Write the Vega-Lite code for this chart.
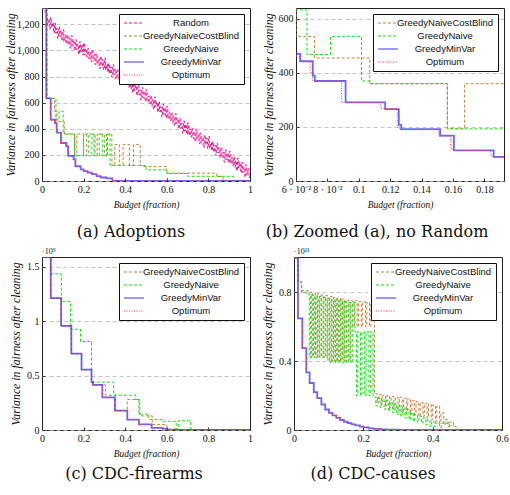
{
"$schema": "https://vega.github.io/schema/vega-lite/v6.json",
"padding": {"left": 4, "top": 7, "right": 0, "bottom": 0},
"datasets": {
"A": [
{"s":"R","x":0,"y":1325},{"s":"R","x":0.015,"y":1280},
{"s":"R","x":0.02,"y":1270},{"s":"R","x":0.025,"y":1195},{"s":"R","x":0.03,"y":1239},{"s":"R","x":0.035,"y":1164},{"s":"R","x":0.04,"y":1252},{"s":"R","x":0.045,"y":1177},{"s":"R","x":0.05,"y":1211},{"s":"R","x":0.055,"y":1136},
{"s":"R","x":0.06,"y":1209},{"s":"R","x":0.065,"y":1134},{"s":"R","x":0.07,"y":1168},{"s":"R","x":0.075,"y":1093},{"s":"R","x":0.08,"y":1181},{"s":"R","x":0.085,"y":1106},{"s":"R","x":0.09,"y":1150},{"s":"R","x":0.095,"y":1075},{"s":"R","x":0.1,"y":1158},{"s":"R","x":0.105,"y":1068},
{"s":"R","x":0.11,"y":1113},{"s":"R","x":0.115,"y":1053},{"s":"R","x":0.12,"y":1118},{"s":"R","x":0.125,"y":1043},{"s":"R","x":0.13,"y":1092},{"s":"R","x":0.135,"y":1017},{"s":"R","x":0.14,"y":1112},{"s":"R","x":0.145,"y":1037},{"s":"R","x":0.15,"y":1077},{"s":"R","x":0.155,"y":1002},
{"s":"R","x":0.16,"y":1082},{"s":"R","x":0.165,"y":1007},{"s":"R","x":0.17,"y":1047},{"s":"R","x":0.175,"y":972},{"s":"R","x":0.18,"y":1066},{"s":"R","x":0.185,"y":991},{"s":"R","x":0.19,"y":1041},{"s":"R","x":0.195,"y":966},{"s":"R","x":0.2,"y":1056},{"s":"R","x":0.205,"y":966},
{"s":"R","x":0.21,"y":1010},{"s":"R","x":0.215,"y":950},{"s":"R","x":0.22,"y":1013},{"s":"R","x":0.225,"y":938},{"s":"R","x":0.23,"y":987},{"s":"R","x":0.235,"y":912},{"s":"R","x":0.24,"y":1005},{"s":"R","x":0.245,"y":930},{"s":"R","x":0.25,"y":969},{"s":"R","x":0.255,"y":894},
{"s":"R","x":0.26,"y":972},{"s":"R","x":0.265,"y":897},{"s":"R","x":0.27,"y":936},{"s":"R","x":0.275,"y":861},{"s":"R","x":0.28,"y":954},{"s":"R","x":0.285,"y":879},{"s":"R","x":0.29,"y":928},{"s":"R","x":0.295,"y":853},{"s":"R","x":0.3,"y":941},{"s":"R","x":0.305,"y":851},
{"s":"R","x":0.31,"y":895},{"s":"R","x":0.315,"y":835},{"s":"R","x":0.32,"y":898},{"s":"R","x":0.325,"y":823},{"s":"R","x":0.33,"y":872},{"s":"R","x":0.335,"y":797},{"s":"R","x":0.34,"y":890},{"s":"R","x":0.345,"y":815},{"s":"R","x":0.35,"y":854},{"s":"R","x":0.355,"y":779},
{"s":"R","x":0.36,"y":857},{"s":"R","x":0.365,"y":782},{"s":"R","x":0.37,"y":821},{"s":"R","x":0.375,"y":746},{"s":"R","x":0.38,"y":839},{"s":"R","x":0.385,"y":764},{"s":"R","x":0.39,"y":813},{"s":"R","x":0.395,"y":738},{"s":"R","x":0.4,"y":826},{"s":"R","x":0.405,"y":736},
{"s":"R","x":0.41,"y":778},{"s":"R","x":0.415,"y":718},{"s":"R","x":0.42,"y":780},{"s":"R","x":0.425,"y":705},{"s":"R","x":0.43,"y":753},{"s":"R","x":0.435,"y":678},{"s":"R","x":0.44,"y":770},{"s":"R","x":0.445,"y":695},{"s":"R","x":0.45,"y":732},{"s":"R","x":0.455,"y":657},
{"s":"R","x":0.46,"y":734},{"s":"R","x":0.465,"y":659},{"s":"R","x":0.47,"y":696},{"s":"R","x":0.475,"y":621},{"s":"R","x":0.48,"y":714},{"s":"R","x":0.485,"y":639},{"s":"R","x":0.49,"y":686},{"s":"R","x":0.495,"y":611},{"s":"R","x":0.5,"y":698},{"s":"R","x":0.505,"y":608},
{"s":"R","x":0.51,"y":650},{"s":"R","x":0.515,"y":590},{"s":"R","x":0.52,"y":652},{"s":"R","x":0.525,"y":577},{"s":"R","x":0.53,"y":625},{"s":"R","x":0.535,"y":550},{"s":"R","x":0.54,"y":642},{"s":"R","x":0.545,"y":567},{"s":"R","x":0.55,"y":604},{"s":"R","x":0.555,"y":529},
{"s":"R","x":0.56,"y":606},{"s":"R","x":0.565,"y":531},{"s":"R","x":0.57,"y":568},{"s":"R","x":0.575,"y":493},{"s":"R","x":0.58,"y":586},{"s":"R","x":0.585,"y":511},{"s":"R","x":0.59,"y":558},{"s":"R","x":0.595,"y":483},{"s":"R","x":0.6,"y":570},{"s":"R","x":0.605,"y":480},
{"s":"R","x":0.61,"y":522},{"s":"R","x":0.615,"y":462},{"s":"R","x":0.62,"y":525},{"s":"R","x":0.625,"y":450},{"s":"R","x":0.63,"y":497},{"s":"R","x":0.635,"y":422},{"s":"R","x":0.64,"y":514},{"s":"R","x":0.645,"y":439},{"s":"R","x":0.65,"y":477},{"s":"R","x":0.655,"y":402},
{"s":"R","x":0.66,"y":479},{"s":"R","x":0.665,"y":404},{"s":"R","x":0.67,"y":441},{"s":"R","x":0.675,"y":366},{"s":"R","x":0.68,"y":458},{"s":"R","x":0.685,"y":383},{"s":"R","x":0.69,"y":431},{"s":"R","x":0.695,"y":356},{"s":"R","x":0.7,"y":443},{"s":"R","x":0.705,"y":353},
{"s":"R","x":0.71,"y":398},{"s":"R","x":0.715,"y":338},{"s":"R","x":0.72,"y":403},{"s":"R","x":0.725,"y":328},{"s":"R","x":0.73,"y":377},{"s":"R","x":0.735,"y":302},{"s":"R","x":0.74,"y":397},{"s":"R","x":0.745,"y":322},{"s":"R","x":0.75,"y":362},{"s":"R","x":0.755,"y":287},
{"s":"R","x":0.76,"y":367},{"s":"R","x":0.765,"y":292},{"s":"R","x":0.77,"y":332},{"s":"R","x":0.775,"y":257},{"s":"R","x":0.78,"y":351},{"s":"R","x":0.785,"y":276},{"s":"R","x":0.79,"y":326},{"s":"R","x":0.795,"y":251},{"s":"R","x":0.8,"y":341},{"s":"R","x":0.805,"y":251},
{"s":"R","x":0.81,"y":295},{"s":"R","x":0.815,"y":235},{"s":"R","x":0.82,"y":298},{"s":"R","x":0.825,"y":223},{"s":"R","x":0.83,"y":272},{"s":"R","x":0.835,"y":197},{"s":"R","x":0.84,"y":290},{"s":"R","x":0.845,"y":215},{"s":"R","x":0.85,"y":254},{"s":"R","x":0.855,"y":179},
{"s":"R","x":0.86,"y":257},{"s":"R","x":0.865,"y":182},{"s":"R","x":0.87,"y":221},{"s":"R","x":0.875,"y":146},{"s":"R","x":0.88,"y":239},{"s":"R","x":0.885,"y":164},{"s":"R","x":0.89,"y":213},{"s":"R","x":0.895,"y":138},{"s":"R","x":0.9,"y":226},{"s":"R","x":0.905,"y":136},
{"s":"R","x":0.91,"y":179},{"s":"R","x":0.915,"y":119},{"s":"R","x":0.92,"y":183},{"s":"R","x":0.925,"y":108},{"s":"R","x":0.93,"y":156},{"s":"R","x":0.935,"y":81},{"s":"R","x":0.94,"y":175},{"s":"R","x":0.945,"y":100},{"s":"R","x":0.95,"y":138},{"s":"R","x":0.955,"y":63},
{"s":"R","x":0.96,"y":141},{"s":"R","x":0.965,"y":66},{"s":"R","x":0.97,"y":105},{"s":"R","x":0.975,"y":30},{"s":"R","x":0.98,"y":123},{"s":"R","x":0.985,"y":48},{"s":"R","x":0.99,"y":97},{"s":"R","x":0.995,"y":27},{"s":"R","x":1,"y":60},
{"s":"B","x":0,"y":1325},{"s":"B","x":0.021,"y":633},{"s":"B","x":0.06,"y":535},{"s":"B","x":0.0718,"y":455},{"s":"B","x":0.107,"y":360},{"s":"B","x":0.1564,"y":193},{"s":"B","x":0.1674,"y":360},{"s":"B","x":0.2,"y":193},{"s":"B","x":0.215,"y":360},{"s":"B","x":0.25,"y":193},{"s":"B","x":0.265,"y":360},{"s":"B","x":0.3,"y":193},{"s":"B","x":0.315,"y":360},{"s":"B","x":0.336,"y":120},{"s":"B","x":0.35,"y":280},{"s":"B","x":0.372,"y":120},{"s":"B","x":0.39,"y":280},{"s":"B","x":0.42,"y":120},{"s":"B","x":0.44,"y":280},{"s":"B","x":0.472,"y":120},{"s":"B","x":0.48,"y":110},{"s":"B","x":0.6,"y":60},{"s":"B","x":0.84,"y":35},{"s":"B","x":0.87,"y":0},{"s":"B","x":1,"y":0},
{"s":"N","x":0,"y":1325},{"s":"N","x":0.024,"y":633},{"s":"N","x":0.067,"y":468},{"s":"N","x":0.082,"y":535},{"s":"N","x":0.1017,"y":370},{"s":"N","x":0.107,"y":360},{"s":"N","x":0.1564,"y":193},{"s":"N","x":0.2,"y":360},{"s":"N","x":0.225,"y":193},{"s":"N","x":0.24,"y":360},{"s":"N","x":0.255,"y":193},{"s":"N","x":0.275,"y":360},{"s":"N","x":0.29,"y":193},{"s":"N","x":0.31,"y":360},{"s":"N","x":0.327,"y":120},{"s":"N","x":0.5,"y":85},{"s":"N","x":0.6,"y":57},{"s":"N","x":0.7,"y":36},{"s":"N","x":0.92,"y":0},{"s":"N","x":1,"y":0},
{"s":"M","x":0,"y":1325},{"s":"M","x":0.021,"y":633},{"s":"M","x":0.042,"y":470},{"s":"M","x":0.0627,"y":443},{"s":"M","x":0.0707,"y":390},{"s":"M","x":0.072,"y":370},{"s":"M","x":0.0916,"y":291},{"s":"M","x":0.1168,"y":266},{"s":"M","x":0.1255,"y":208},{"s":"M","x":0.127,"y":192},{"s":"M","x":0.1518,"y":168},{"s":"M","x":0.1606,"y":113},{"s":"M","x":0.1859,"y":89},{"s":"M","x":0.2,"y":75},{"s":"M","x":0.22,"y":64},{"s":"M","x":0.24,"y":52},{"s":"M","x":0.262,"y":38},{"s":"M","x":0.282,"y":27},{"s":"M","x":0.31,"y":20},{"s":"M","x":0.338,"y":0},{"s":"M","x":1,"y":0},
{"s":"O","x":0,"y":1325},{"s":"O","x":0.02,"y":633},{"s":"O","x":0.041,"y":462},{"s":"O","x":0.0622,"y":443},{"s":"O","x":0.069,"y":400},{"s":"O","x":0.0705,"y":370},{"s":"O","x":0.089,"y":291},{"s":"O","x":0.114,"y":268},{"s":"O","x":0.1245,"y":200},{"s":"O","x":0.126,"y":190},{"s":"O","x":0.151,"y":166},{"s":"O","x":0.1585,"y":120},{"s":"O","x":0.16,"y":113},{"s":"O","x":0.1842,"y":93},{"s":"O","x":0.186,"y":88},{"s":"O","x":0.2,"y":75},{"s":"O","x":0.22,"y":64},{"s":"O","x":0.24,"y":52},{"s":"O","x":0.262,"y":38},{"s":"O","x":0.282,"y":27},{"s":"O","x":0.31,"y":20},{"s":"O","x":0.338,"y":0},{"s":"O","x":1,"y":0}
],
"C": [
{"s":"B","x":0,"y":1.59},{"s":"B","x":0.042,"y":1.212},{"s":"B","x":0.092,"y":0.957},{"s":"B","x":0.141,"y":0.702},{"s":"B","x":0.19,"y":0.555},{"s":"B","x":0.238,"y":0.44},{"s":"B","x":0.245,"y":0.415},{"s":"B","x":0.305,"y":0.32},{"s":"B","x":0.354,"y":0.178},{"s":"B","x":0.41,"y":0.28},{"s":"B","x":0.47,"y":0.13},{"s":"B","x":0.53,"y":0.05},{"s":"B","x":0.6,"y":0.01},{"s":"B","x":0.65,"y":0},{"s":"B","x":1,"y":0},
{"s":"N","x":0,"y":1.59},{"s":"N","x":0.042,"y":1.436},{"s":"N","x":0.093,"y":1.18},{"s":"N","x":0.137,"y":0.926},{"s":"N","x":0.185,"y":0.813},{"s":"N","x":0.238,"y":0.44},{"s":"N","x":0.345,"y":0.32},{"s":"N","x":0.45,"y":0.28},{"s":"N","x":0.466,"y":0.147},{"s":"N","x":0.514,"y":0.095},{"s":"N","x":0.58,"y":0.08},{"s":"N","x":0.645,"y":0.01},{"s":"N","x":0.655,"y":0.085},{"s":"N","x":0.715,"y":0},{"s":"N","x":1,"y":0},
{"s":"M","x":0,"y":1.59},{"s":"M","x":0.042,"y":1.212},{"s":"M","x":0.092,"y":0.957},{"s":"M","x":0.141,"y":0.702},{"s":"M","x":0.19,"y":0.555},{"s":"M","x":0.238,"y":0.44},{"s":"M","x":0.245,"y":0.415},{"s":"M","x":0.29,"y":0.3},{"s":"M","x":0.35,"y":0.178},{"s":"M","x":0.41,"y":0.095},{"s":"M","x":0.466,"y":0.052},{"s":"M","x":0.527,"y":0.02},{"s":"M","x":0.58,"y":0.01},{"s":"M","x":0.6,"y":0},{"s":"M","x":1,"y":0},
{"s":"O","x":0,"y":1.59},{"s":"O","x":0.042,"y":1.212},{"s":"O","x":0.092,"y":0.957},{"s":"O","x":0.141,"y":0.702},{"s":"O","x":0.19,"y":0.555},{"s":"O","x":0.238,"y":0.44},{"s":"O","x":0.245,"y":0.415},{"s":"O","x":0.29,"y":0.3},{"s":"O","x":0.35,"y":0.178},{"s":"O","x":0.41,"y":0.095},{"s":"O","x":0.466,"y":0.052},{"s":"O","x":0.527,"y":0.02},{"s":"O","x":0.58,"y":0.01},{"s":"O","x":0.6,"y":0},{"s":"O","x":1,"y":0}
],
"D": [
{"s":"B","x":0,"y":1},{"s":"B","x":0.0115,"y":0.86},{"s":"B","x":0.022,"y":0.81},{"s":"B","x":0.04,"y":0.8},
{"s":"B","x":0.05,"y":0.42},{"s":"B","x":0.054,"y":0.795},{"s":"B","x":0.062,"y":0.42},{"s":"B","x":0.066,"y":0.79},{"s":"B","x":0.074,"y":0.42},{"s":"B","x":0.078,"y":0.785},{"s":"B","x":0.086,"y":0.42},{"s":"B","x":0.09,"y":0.78},
{"s":"B","x":0.098,"y":0.4},{"s":"B","x":0.102,"y":0.775},{"s":"B","x":0.11,"y":0.4},{"s":"B","x":0.114,"y":0.77},{"s":"B","x":0.122,"y":0.4},{"s":"B","x":0.126,"y":0.765},{"s":"B","x":0.134,"y":0.4},{"s":"B","x":0.138,"y":0.76},{"s":"B","x":0.146,"y":0.4},{"s":"B","x":0.15,"y":0.755},{"s":"B","x":0.158,"y":0.4},{"s":"B","x":0.162,"y":0.75},
{"s":"B","x":0.17,"y":0.6},{"s":"B","x":0.174,"y":0.75},{"s":"B","x":0.182,"y":0.6},{"s":"B","x":0.186,"y":0.745},{"s":"B","x":0.194,"y":0.6},{"s":"B","x":0.198,"y":0.745},{"s":"B","x":0.206,"y":0.6},{"s":"B","x":0.21,"y":0.74},{"s":"B","x":0.218,"y":0.6},{"s":"B","x":0.222,"y":0.74},
{"s":"B","x":0.232,"y":0.21},{"s":"B","x":0.24,"y":0.16},{"s":"B","x":0.244,"y":0.205},{"s":"B","x":0.252,"y":0.15},{"s":"B","x":0.256,"y":0.2},{"s":"B","x":0.264,"y":0.14},{"s":"B","x":0.268,"y":0.2},{"s":"B","x":0.276,"y":0.13},{"s":"B","x":0.28,"y":0.195},{"s":"B","x":0.288,"y":0.12},{"s":"B","x":0.292,"y":0.19},{"s":"B","x":0.3,"y":0.11},{"s":"B","x":0.304,"y":0.19},{"s":"B","x":0.312,"y":0.1},{"s":"B","x":0.316,"y":0.185},{"s":"B","x":0.324,"y":0.1},{"s":"B","x":0.328,"y":0.18},{"s":"B","x":0.336,"y":0.09},{"s":"B","x":0.34,"y":0.17},{"s":"B","x":0.348,"y":0.09},{"s":"B","x":0.352,"y":0.165},{"s":"B","x":0.36,"y":0.08},{"s":"B","x":0.364,"y":0.16},{"s":"B","x":0.372,"y":0.08},{"s":"B","x":0.376,"y":0.155},{"s":"B","x":0.384,"y":0.07},{"s":"B","x":0.388,"y":0.15},{"s":"B","x":0.396,"y":0.06},{"s":"B","x":0.4,"y":0.145},{"s":"B","x":0.408,"y":0.05},{"s":"B","x":0.412,"y":0.14},{"s":"B","x":0.42,"y":0.04},{"s":"B","x":0.424,"y":0.1},{"s":"B","x":0.432,"y":0.03},{"s":"B","x":0.436,"y":0.06},{"s":"B","x":0.444,"y":0.02},{"s":"B","x":0.448,"y":0.045},{"s":"B","x":0.46,"y":0.02},{"s":"B","x":0.468,"y":0},{"s":"B","x":0.6,"y":0},
{"s":"N","x":0,"y":1},{"s":"N","x":0.0115,"y":0.86},{"s":"N","x":0.022,"y":0.8},{"s":"N","x":0.035,"y":0.79},
{"s":"N","x":0.044,"y":0.42},{"s":"N","x":0.048,"y":0.785},{"s":"N","x":0.056,"y":0.42},{"s":"N","x":0.06,"y":0.78},{"s":"N","x":0.068,"y":0.42},{"s":"N","x":0.072,"y":0.775},{"s":"N","x":0.08,"y":0.42},{"s":"N","x":0.084,"y":0.77},{"s":"N","x":0.092,"y":0.42},{"s":"N","x":0.096,"y":0.765},
{"s":"N","x":0.104,"y":0.39},{"s":"N","x":0.108,"y":0.76},{"s":"N","x":0.116,"y":0.39},{"s":"N","x":0.12,"y":0.755},{"s":"N","x":0.128,"y":0.39},{"s":"N","x":0.132,"y":0.75},{"s":"N","x":0.14,"y":0.39},{"s":"N","x":0.144,"y":0.745},{"s":"N","x":0.152,"y":0.39},{"s":"N","x":0.156,"y":0.74},{"s":"N","x":0.164,"y":0.39},{"s":"N","x":0.168,"y":0.74},
{"s":"N","x":0.176,"y":0.57},{"s":"N","x":0.18,"y":0.2},{"s":"N","x":0.184,"y":0.57},{"s":"N","x":0.192,"y":0.2},{"s":"N","x":0.196,"y":0.57},{"s":"N","x":0.204,"y":0.2},{"s":"N","x":0.208,"y":0.57},{"s":"N","x":0.216,"y":0.2},{"s":"N","x":0.22,"y":0.57},{"s":"N","x":0.228,"y":0.2},
{"s":"N","x":0.232,"y":0.19},{"s":"N","x":0.236,"y":0.14},{"s":"N","x":0.24,"y":0.185},{"s":"N","x":0.248,"y":0.13},{"s":"N","x":0.252,"y":0.18},{"s":"N","x":0.26,"y":0.12},{"s":"N","x":0.264,"y":0.17},{"s":"N","x":0.272,"y":0.11},{"s":"N","x":0.276,"y":0.16},{"s":"N","x":0.284,"y":0.1},{"s":"N","x":0.288,"y":0.15},{"s":"N","x":0.296,"y":0.09},{"s":"N","x":0.3,"y":0.14},{"s":"N","x":0.308,"y":0.08},{"s":"N","x":0.312,"y":0.13},{"s":"N","x":0.32,"y":0.07},{"s":"N","x":0.324,"y":0.12},{"s":"N","x":0.332,"y":0.06},{"s":"N","x":0.336,"y":0.1},{"s":"N","x":0.344,"y":0.05},{"s":"N","x":0.348,"y":0.09},{"s":"N","x":0.356,"y":0.045},{"s":"N","x":0.36,"y":0.08},{"s":"N","x":0.368,"y":0.04},{"s":"N","x":0.372,"y":0.07},{"s":"N","x":0.38,"y":0.03},{"s":"N","x":0.384,"y":0.06},{"s":"N","x":0.392,"y":0.02},{"s":"N","x":0.396,"y":0.05},{"s":"N","x":0.404,"y":0.02},{"s":"N","x":0.408,"y":0.04},{"s":"N","x":0.42,"y":0.015},{"s":"N","x":0.425,"y":0.04},{"s":"N","x":0.445,"y":0.03},{"s":"N","x":0.45,"y":0},{"s":"N","x":0.6,"y":0},
{"s":"M","x":0,"y":1},{"s":"M","x":0.0115,"y":0.649},{"s":"M","x":0.024,"y":0.476},{"s":"M","x":0.0355,"y":0.335},{"s":"M","x":0.045,"y":0.273},{"s":"M","x":0.057,"y":0.22},{"s":"M","x":0.067,"y":0.185},{"s":"M","x":0.079,"y":0.148},{"s":"M","x":0.09,"y":0.119},{"s":"M","x":0.101,"y":0.099},{"s":"M","x":0.111,"y":0.085},{"s":"M","x":0.122,"y":0.07},{"s":"M","x":0.133,"y":0.058},{"s":"M","x":0.144,"y":0.048},{"s":"M","x":0.155,"y":0.04},{"s":"M","x":0.166,"y":0.033},{"s":"M","x":0.177,"y":0.027},{"s":"M","x":0.19,"y":0.02},{"s":"M","x":0.2,"y":0.015},{"s":"M","x":0.215,"y":0.01},{"s":"M","x":0.23,"y":0.007},{"s":"M","x":0.25,"y":0.004},{"s":"M","x":0.27,"y":0.002},{"s":"M","x":0.3,"y":0},{"s":"M","x":0.6,"y":0},
{"s":"O","x":0,"y":1},{"s":"O","x":0.0115,"y":0.649},{"s":"O","x":0.024,"y":0.476},{"s":"O","x":0.0355,"y":0.335},{"s":"O","x":0.045,"y":0.273},{"s":"O","x":0.057,"y":0.22},{"s":"O","x":0.067,"y":0.185},{"s":"O","x":0.079,"y":0.148},{"s":"O","x":0.09,"y":0.119},{"s":"O","x":0.101,"y":0.099},{"s":"O","x":0.111,"y":0.085},{"s":"O","x":0.122,"y":0.07},{"s":"O","x":0.133,"y":0.058},{"s":"O","x":0.144,"y":0.048},{"s":"O","x":0.155,"y":0.04},{"s":"O","x":0.166,"y":0.033},{"s":"O","x":0.177,"y":0.027},{"s":"O","x":0.19,"y":0.02},{"s":"O","x":0.2,"y":0.015},{"s":"O","x":0.215,"y":0.01},{"s":"O","x":0.23,"y":0.007},{"s":"O","x":0.25,"y":0.004},{"s":"O","x":0.27,"y":0.002},{"s":"O","x":0.3,"y":0},{"s":"O","x":0.6,"y":0}
]
},
"bounds": "full",
"align": "none",
"columns": 1,
"spacing": 7,
"resolve": {"scale": {"color": "independent", "strokeDash": "independent", "x": "independent", "y": "independent"}, "legend": {"color": "independent", "strokeDash": "independent"}},
"concat": [
{"hconcat": [
{"width": 208, "height": 173, "data": {"name": "A"},
 "title": {"text": "(a) Adoptions", "dx": -15, "offset": 15},
 "mark": {"type": "line", "interpolate": "step-after", "clip": true},
 "encoding": {
  "x": {"field": "x", "type": "quantitative", "scale": {"domain": [0, 1], "nice": false, "zero": false}, "axis": {"values": [0, 0.2, 0.4, 0.6, 0.8, 1], "format": ".1~f", "title": "Budget (fraction)"}},
  "y": {"field": "y", "type": "quantitative", "scale": {"domain": [0, 1325], "nice": false}, "axis": {"values": [0, 200, 400, 600, 800, 1000, 1200], "format": ",d", "title": "Variance in fairness after cleaning", "minExtent": 25.5, "maxExtent": 25.5}},
  "color": {"field": "s", "type": "nominal", "scale": {"domain": ["R", "B", "N", "M", "O"], "range": ["#e8168c", "#c4823f", "#14e014", "#3535ff", "#ff3a3a"]}, "legend": {"title": null, "labelExpr": "datum.label=='R'?'Random':datum.label=='B'?'GreedyNaiveCostBlind':datum.label=='N'?'GreedyNaive':datum.label=='M'?'GreedyMinVar':'Optimum'", "encode": {"symbols": {"update": {"strokeWidth": {"signal": "datum.value=='M'?2.4:1.2"}}}}}},
  "strokeDash": {"field": "s", "type": "nominal", "scale": {"domain": ["R", "B", "N", "M", "O"], "range": [[3, 2], [3, 2], [3, 2], [1, 0], [1, 1.5]]}, "legend": {"title": null, "labelExpr": "datum.label=='R'?'Random':datum.label=='B'?'GreedyNaiveCostBlind':datum.label=='N'?'GreedyNaive':datum.label=='M'?'GreedyMinVar':'Optimum'"}},
  "strokeWidth": {"condition": {"test": "datum.s=='M'", "value": 1.8}, "value": 1},
  "opacity": {"condition": {"test": "datum.s=='M'", "value": 0.75}, "value": 1}
 }},
{"width": 208, "height": 173, "data": {"name": "A"},
 "transform": [{"filter": "datum.s!='R'"}],
 "title": {"text": "(b) Zoomed (a), no Random", "dx": -23, "offset": 15},
 "mark": {"type": "line", "interpolate": "step-after", "clip": true},
 "encoding": {
  "x": {"field": "x", "type": "quantitative", "scale": {"domain": [0.06, 0.1925], "nice": false, "zero": false}, "axis": {"values": [0.06, 0.08, 0.1, 0.12, 0.14, 0.16, 0.18], "labelExpr": "abs(datum.value-0.06)<0.001?'6 · 10⁻²':abs(datum.value-0.08)<0.001?'8 · 10⁻²':format(datum.value,'.2~f')", "title": "Budget (fraction)"}},
  "y": {"field": "y", "type": "quantitative", "scale": {"domain": [0, 640], "nice": false}, "axis": {"values": [0, 200, 400, 600], "format": ",d", "title": "Variance in fairness after cleaning", "minExtent": 21, "maxExtent": 21}},
  "color": {"field": "s", "type": "nominal", "scale": {"domain": ["B", "N", "M", "O"], "range": ["#c4823f", "#14e014", "#3535ff", "#ff3a3a"]}, "legend": {"title": null, "labelExpr": "datum.label=='B'?'GreedyNaiveCostBlind':datum.label=='N'?'GreedyNaive':datum.label=='M'?'GreedyMinVar':'Optimum'", "encode": {"symbols": {"update": {"strokeWidth": {"signal": "datum.value=='M'?2.4:1.2"}}}}}},
  "strokeDash": {"field": "s", "type": "nominal", "scale": {"domain": ["B", "N", "M", "O"], "range": [[3, 2], [3, 2], [1, 0], [1, 1.5]]}, "legend": {"title": null, "labelExpr": "datum.label=='B'?'GreedyNaiveCostBlind':datum.label=='N'?'GreedyNaive':datum.label=='M'?'GreedyMinVar':'Optimum'"}},
  "strokeWidth": {"condition": {"test": "datum.s=='M'", "value": 1.8}, "value": 1},
  "opacity": {"condition": {"test": "datum.s=='M'", "value": 0.75}, "value": 1}
 }}
], "spacing": 46, "bounds": "flush",
 "resolve": {"scale": {"color": "independent", "strokeDash": "independent", "x": "independent", "y": "independent"}, "legend": {"color": "independent", "strokeDash": "independent"}}},
{"hconcat": [
{"width": 208, "height": 173,
 "title": {"text": "(c) CDC-firearms", "dx": -12, "offset": 8},
 "layer": [
 {"data": {"name": "C"},
  "mark": {"type": "line", "interpolate": "step-after", "clip": true},
  "encoding": {
  "x": {"field": "x", "type": "quantitative", "scale": {"domain": [0, 1], "nice": false, "zero": false}, "axis": {"values": [0, 0.2, 0.4, 0.6, 0.8, 1], "format": ".1~f", "title": "Budget (fraction)"}},
  "y": {"field": "y", "type": "quantitative", "scale": {"domain": [0, 1.59], "nice": false}, "axis": {"values": [0, 0.5, 1, 1.5], "format": ".1~f", "title": "Variance in fairness after cleaning", "minExtent": 20.5, "maxExtent": 20.5}},
  "color": {"field": "s", "type": "nominal", "scale": {"domain": ["B", "N", "M", "O"], "range": ["#c4823f", "#14e014", "#3535ff", "#ff3a3a"]}, "legend": {"title": null, "labelExpr": "datum.label=='B'?'GreedyNaiveCostBlind':datum.label=='N'?'GreedyNaive':datum.label=='M'?'GreedyMinVar':'Optimum'", "encode": {"symbols": {"update": {"strokeWidth": {"signal": "datum.value=='M'?2.4:1.2"}}}}}},
  "strokeDash": {"field": "s", "type": "nominal", "scale": {"domain": ["B", "N", "M", "O"], "range": [[3, 2], [3, 2], [1, 0], [1, 1.5]]}, "legend": {"title": null, "labelExpr": "datum.label=='B'?'GreedyNaiveCostBlind':datum.label=='N'?'GreedyNaive':datum.label=='M'?'GreedyMinVar':'Optimum'"}},
  "strokeWidth": {"condition": {"test": "datum.s=='M'", "value": 1.8}, "value": 1},
  "opacity": {"condition": {"test": "datum.s=='M'", "value": 0.75}, "value": 1}
  }},
 {"data": {"values": [{}]},
  "mark": {"type": "text", "align": "left", "baseline": "bottom", "dy": -1, "font": "Liberation Serif", "fontSize": 8, "color": "#111"},
  "encoding": {"x": {"datum": 0, "type": "quantitative"}, "y": {"datum": 1.59, "type": "quantitative"}, "text": {"value": "·10⁹"}}}
 ]},
{"width": 208, "height": 173,
 "title": {"text": "(d) CDC-causes", "dx": -25, "offset": 8},
 "layer": [
 {"data": {"name": "D"},
  "mark": {"type": "line", "interpolate": "step-after", "clip": true},
  "encoding": {
  "x": {"field": "x", "type": "quantitative", "scale": {"domain": [0, 0.6], "nice": false, "zero": false}, "axis": {"values": [0, 0.1, 0.2, 0.3, 0.4, 0.5, 0.6], "format": ".1~f", "title": "Budget (fraction)"}},
  "y": {"field": "y", "type": "quantitative", "scale": {"domain": [0, 1.005], "nice": false}, "axis": {"values": [0, 0.2, 0.4, 0.6, 0.8, 1], "format": ".1~f", "title": "Variance in fairness after cleaning", "minExtent": 20.5, "maxExtent": 20.5}},
  "color": {"field": "s", "type": "nominal", "scale": {"domain": ["B", "N", "M", "O"], "range": ["#c4823f", "#14e014", "#3535ff", "#ff3a3a"]}, "legend": {"title": null, "labelExpr": "datum.label=='B'?'GreedyNaiveCostBlind':datum.label=='N'?'GreedyNaive':datum.label=='M'?'GreedyMinVar':'Optimum'", "encode": {"symbols": {"update": {"strokeWidth": {"signal": "datum.value=='M'?2.4:1.2"}}}}}},
  "strokeDash": {"field": "s", "type": "nominal", "scale": {"domain": ["B", "N", "M", "O"], "range": [[3, 2], [3, 2], [1, 0], [1, 1.5]]}, "legend": {"title": null, "labelExpr": "datum.label=='B'?'GreedyNaiveCostBlind':datum.label=='N'?'GreedyNaive':datum.label=='M'?'GreedyMinVar':'Optimum'"}},
  "strokeWidth": {"condition": {"test": "datum.s=='M'", "value": 1.8}, "value": 1},
  "opacity": {"condition": {"test": "datum.s=='M'", "value": 0.75}, "value": 1}
  }},
 {"data": {"values": [{}]},
  "mark": {"type": "text", "align": "left", "baseline": "bottom", "dy": -1, "font": "Liberation Serif", "fontSize": 8, "color": "#111"},
  "encoding": {"x": {"datum": 0, "type": "quantitative"}, "y": {"datum": 1.005, "type": "quantitative"}, "text": {"value": "·10¹¹"}}}
 ]}
], "spacing": 44, "bounds": "flush",
 "resolve": {"scale": {"color": "independent", "strokeDash": "independent", "x": "independent", "y": "independent"}, "legend": {"color": "independent", "strokeDash": "independent"}}}
],
"config": {
 "view": {"stroke": "#222", "strokeWidth": 1},
 "axis": {"domain": false, "labelFont": "Liberation Serif", "labelFontSize": 10, "labelColor": "#111", "labelFlush": false, "labelOverlap": false, "labelPadding": 6, "tickSize": -3, "tickColor": "#333", "titleFont": "Liberation Serif", "titleFontStyle": "italic", "titleFontWeight": "normal", "titleColor": "#111", "gridColor": "#b5b5b5", "gridDash": [4, 3], "gridWidth": 0.8},
 "axisX": {"grid": false, "titleFontSize": 9.5, "titlePadding": 5},
 "axisY": {"grid": true, "titleFontSize": 11.8, "titlePadding": 0.5},
 "legend": {"orient": "top-right", "offset": 6, "strokeColor": "#111", "fillColor": "white", "padding": 4, "labelFont": "Liberation Sans", "labelFontSize": 9.5, "labelColor": "#111", "labelAlign": "center", "labelOffset": 58, "symbolType": "M-1,0H4", "symbolSize": 64, "symbolStrokeWidth": 1.2, "rowPadding": 3},
 "title": {"orient": "bottom", "font": "DejaVu Serif", "fontSize": 16, "fontWeight": "normal", "color": "#111", "anchor": "middle", "frame": "group"}
}
}
